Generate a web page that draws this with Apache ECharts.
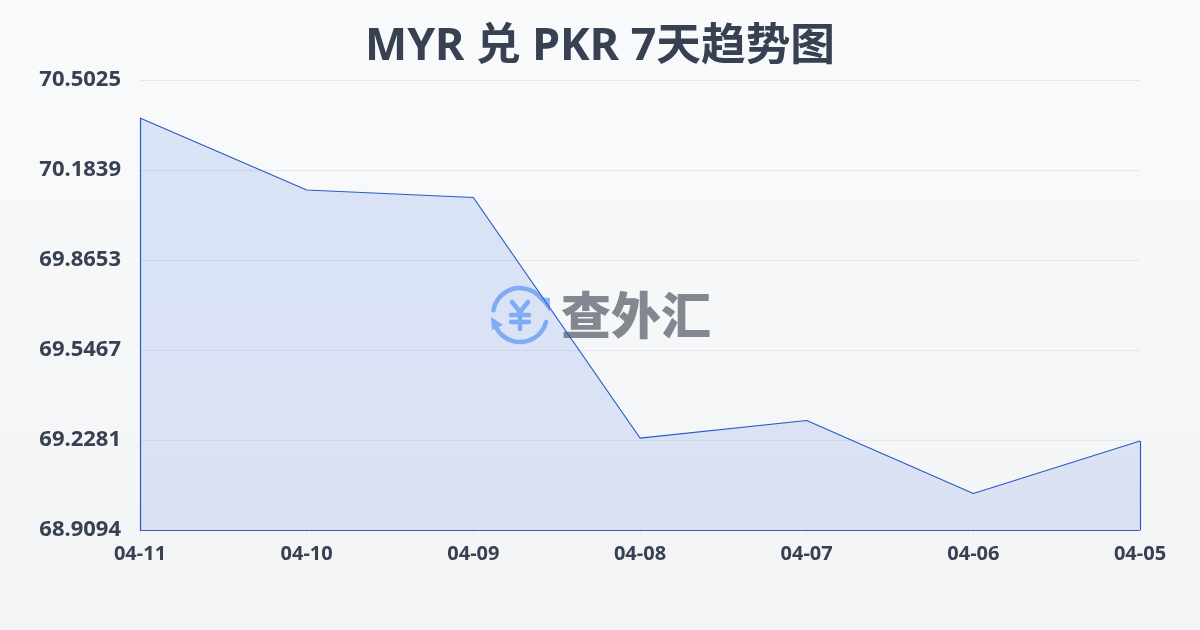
<!DOCTYPE html>
<html><head><meta charset="utf-8">
<style>html,body{margin:0;padding:0;width:1200px;height:630px;overflow:hidden}#c{width:1200px;height:630px}</style>
<script src="https://cdn.jsdelivr.net/npm/echarts@6/dist/echarts.min.js"></script>
</head><body><div id="c"></div>
<script>
const titleText = 'MYR 兑 PKR 7天趋势图';
const categories = ['04-11','04-10','04-09','04-08','04-07','04-06','04-05'];
const rates = [70.368,70.113,70.0865,69.235,69.297,69.0386,69.2245];
const yTicks = [68.9094,69.2281,69.5467,69.8653,70.1839,70.5025];
const font = '"Noto Sans","Noto Sans CJK SC",sans-serif';
const ink = '#374151', blue = '#2a5cc4', iconBlue = '#8db6f7';
const yMin = yTicks[0], yMax = yTicks[yTicks.length-1];
const last = categories.length-1;
const iconStroke = {stroke:iconBlue,lineWidth:4.5,lineCap:'round',lineJoin:'round',fill:null};
const chart = echarts.init(document.getElementById('c'),null,{renderer:'canvas'});
chart.setOption({
  animation:false,
  backgroundColor:new echarts.graphic.LinearGradient(0,0,0,1,[{offset:0,color:'#f9fafc'},{offset:1,color:'#f2f4f6'}]),
  title:{text:titleText,left:'center',top:20,textStyle:{fontFamily:font,fontSize:44.7,fontWeight:'bold',color:ink}},
  grid:{left:140,right:60,top:80,bottom:100},
  graphic:[
    {type:'arc',z:1,shape:{cx:520,cy:315,r:27,startAngle:190*Math.PI/180,endAngle:323*Math.PI/180,clockwise:true},style:iconStroke},
    {type:'arc',z:1,shape:{cx:520,cy:315,r:27,startAngle:15*Math.PI/180,endAngle:152*Math.PI/180,clockwise:true},style:iconStroke},
    {type:'polygon',z:1,shape:{points:[[538,297],[550,298],[550,312]]},style:{fill:iconBlue}},
    {type:'polygon',z:1,shape:{points:[[491,317],[503,325],[492,330]]},style:{fill:iconBlue}},
    {type:'polyline',z:1,shape:{points:[[512,302],[520,312],[528,302]]},style:iconStroke},
    {type:'line',z:1,shape:{x1:511,y1:315,x2:529,y2:315},style:iconStroke},
    {type:'line',z:1,shape:{x1:511,y1:322,x2:529,y2:322},style:iconStroke},
    {type:'line',z:1,shape:{x1:520,y1:312,x2:520,y2:329},style:iconStroke},
    {type:'text',z:1,style:{x:636,y:315,text:'查外汇',align:'center',verticalAlign:'middle',font:'900 50px "Noto Sans CJK SC",sans-serif',fill:'#83878f'}}
  ],
  xAxis:{type:'category',boundaryGap:false,data:categories,
    axisLine:{show:true,lineStyle:{color:'#e5e7eb'}},
    axisTick:{show:true,alignWithLabel:true,length:5,lineStyle:{color:'#e5e7eb'}},
    axisLabel:{interval:0,margin:14,fontFamily:font,fontSize:20,fontWeight:'bold',color:ink},
    splitLine:{show:false}},
  yAxis:{type:'value',min:yMin,max:yMax,
    axisLine:{show:false},
    axisTick:{show:false,customValues:yTicks},
    axisLabel:{customValues:yTicks,margin:19,fontFamily:font,fontSize:22,fontWeight:'bold',color:ink,padding:[0,0,5,0],formatter:v=>v.toFixed(4)},
    splitLine:{show:true,lineStyle:{color:'#e5e7eb',width:1}}},
  series:[{type:'line',data:rates,smooth:false,showSymbol:false,symbol:'none',z:3,
    lineStyle:{color:blue,width:1.2},
    areaStyle:{color:new echarts.graphic.LinearGradient(0,0,0,1,[{offset:0,color:'rgba(50,110,225,0.22)'},{offset:1,color:'rgba(50,90,215,0.18)'}])},
    markLine:{silent:true,symbol:'none',label:{show:false},lineStyle:{color:blue,width:1.2,type:'solid'},animation:false,
      data:[
        [{coord:[categories[0],yMin]},{coord:[categories[0],rates[0]]}],
        [{coord:[categories[0],yMin]},{coord:[categories[last],yMin]}],
        [{coord:[categories[last],yMin]},{coord:[categories[last],rates[last]]}]
      ]}
  }]
});
</script></body></html>
